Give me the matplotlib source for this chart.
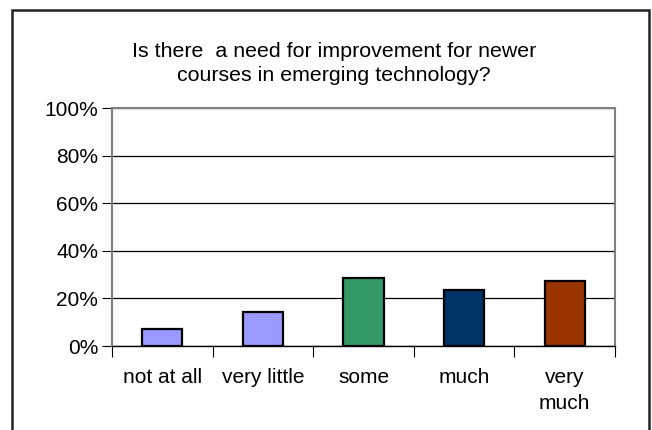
import matplotlib
matplotlib.use("Agg")
import matplotlib.pyplot as plt
from matplotlib.patches import Rectangle
from matplotlib.ticker import PercentFormatter

plt.rcParams['font.family'] = ['Liberation Sans', 'DejaVu Sans']

categories = ["not at all", "very little", "some", "much", "very\nmuch"]
values = [7.3, 14.3, 28.6, 23.5, 27.2]
colors = ["#9999FF", "#9999FF", "#339966", "#003366", "#993300"]
title = "Is there  a need for improvement for newer\ncourses in emerging technology?"

fig = plt.figure(figsize=(6.52, 4.30), dpi=100)
ax = fig.add_axes([0.1718, 0.1953, 0.7715, 0.5535])

x = list(range(len(categories)))
ax.bar(x, values, width=0.4, color=colors, edgecolor="black", linewidth=1.6, zorder=3)

ax.set_xlim(-0.5, len(categories) - 0.5)
ax.set_ylim(0, 100)
ax.set_yticks([0, 20, 40, 60, 80, 100])
ax.yaxis.set_major_formatter(PercentFormatter(decimals=0))
ax.grid(axis="y", color="black", linewidth=0.9, zorder=1)

ax.set_xticks([i - 0.5 for i in range(len(categories) + 1)])
ax.set_xticklabels([])
ax.set_xticks(x, minor=True)
ax.set_xticklabels(categories, minor=True, linespacing=1.45)
ax.tick_params(axis="x", which="major", direction="out", length=8, color="black")
ax.tick_params(axis="x", which="minor", length=0, pad=16, labelsize=15)
ax.tick_params(axis="y", direction="out", length=7, labelsize=15, pad=3)

for s in ["top", "right", "left"]:
    ax.spines[s].set_color("#808080")
    ax.spines[s].set_linewidth(1.5)
ax.spines["bottom"].set_color("black")
ax.spines["bottom"].set_linewidth(1.0)

fig.text(0.512, 0.852, title, ha="center", va="center", fontsize=15.4, linespacing=1.32)

frame = Rectangle((12 / 652, -0.05), 637 / 652, 1.05 - 10 / 430, transform=fig.transFigure,
                  fill=False, edgecolor="#222222", linewidth=1.8)
fig.patches.append(frame)

fig.savefig("out.png", dpi=100)
